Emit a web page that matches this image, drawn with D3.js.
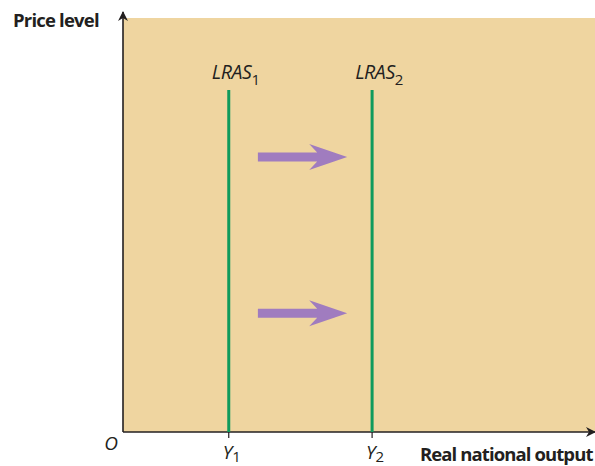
<!DOCTYPE html>
<html>
<head>
<meta charset="utf-8">
<script src="https://cdn.jsdelivr.net/npm/d3@7"></script>
<style>
  body { margin: 0; background: #fff; }
  svg { display: block; }
  text { font-family: "Open Sans", "DejaVu Sans", sans-serif; fill: #231f20; }
</style>
</head>
<body>
<svg id="chart" width="595" height="466"></svg>
<script>
// curves: name, subscript, output level, top of line
var curveNames = ['LRAS', 'LRAS'];
var curveSubs = ['1', '2'];
var curveOutput = [22.5, 53];
var curveTop = 82.6;
// tick labels on the output axis
var tickLabels = ['Y', 'Y'];
var tickSubs = ['1', '2'];
// shift arrows: price level, start and end output
var arrowLevels = [66.4, 28.7];
var arrowFrom = 28.7;
var arrowTo = 47.7;

var svg = d3.select('#chart'),
    width = 595, height = 466;

var x = d3.scaleLinear().domain([0, 100]).range([123, 593]);
var y = d3.scaleLinear().domain([0, 100]).range([432, 18]);

// shaded plot area
svg.append('rect')
    .attr('x', x(0)).attr('y', y(100))
    .attr('width', width - x(0)).attr('height', y(0) - y(100))
    .attr('fill', '#efd5a0');

// arrowhead marker for axes
var defs = svg.append('defs');
defs.append('marker')
    .attr('id', 'ax')
    .attr('viewBox', '0 0 10 10')
    .attr('refX', 9).attr('refY', 5)
    .attr('markerWidth', 10).attr('markerHeight', 10)
    .attr('markerUnits', 'userSpaceOnUse')
    .attr('orient', 'auto')
    .append('path')
    .attr('d', 'M0,0 L10,5 L0,10 L3,5 Z')
    .attr('fill', '#231f20');

// axes
svg.append('line')
    .attr('x1', x(0)).attr('y1', y(0))
    .attr('x2', x(0)).attr('y2', 12)
    .attr('stroke', '#231f20').attr('stroke-width', 1.6)
    .attr('marker-end', 'url(#ax)');
svg.append('line')
    .attr('x1', x(0)).attr('y1', y(0))
    .attr('x2', 595).attr('y2', y(0))
    .attr('stroke', '#231f20').attr('stroke-width', 1.6)
    .attr('marker-end', 'url(#ax)');

// ticks at Y1, Y2
svg.selectAll('.tick')
    .data(curveOutput)
    .enter().append('line')
    .attr('class', 'tick')
    .attr('x1', d => x(d)).attr('x2', d => x(d))
    .attr('y1', y(0)).attr('y2', y(0) + 6)
    .attr('stroke', '#231f20').attr('stroke-width', 1.2);

// LRAS lines
svg.selectAll('.lras')
    .data(curveOutput)
    .enter().append('line')
    .attr('class', 'lras')
    .attr('x1', d => x(d)).attr('x2', d => x(d))
    .attr('y1', y(curveTop)).attr('y2', y(0))
    .attr('stroke', '#0f9a5c').attr('stroke-width', 3);

// LRAS labels
var lab = svg.selectAll('.lab')
    .data(curveOutput)
    .enter().append('text')
    .attr('class', 'lab')
    .attr('x', d => x(d) + 7)
    .attr('y', 79)
    .attr('text-anchor', 'middle')
    .attr('font-size', 19.5)
    .attr('font-style', 'italic')
    .attr('letter-spacing', -0.4);
lab.append('tspan').text((d, i) => curveNames[i]);
lab.append('tspan').attr('dy', 6).attr('font-size', 15).attr('font-style', 'normal')
    .text((d, i) => curveSubs[i]);

// tick labels
var tl = svg.selectAll('.tl')
    .data(curveOutput)
    .enter().append('text')
    .attr('class', 'tl')
    .attr('x', d => x(d) + 3)
    .attr('y', 459)
    .attr('text-anchor', 'middle')
    .attr('font-size', 19)
    .attr('font-style', 'italic');
tl.append('tspan').text((d, i) => tickLabels[i]);
tl.append('tspan').attr('dy', 3).attr('font-size', 15).attr('font-style', 'normal')
    .text((d, i) => tickSubs[i]);

// origin
svg.append('text')
    .attr('x', 111).attr('y', 450)
    .attr('text-anchor', 'middle')
    .attr('font-size', 19).attr('font-style', 'italic')
    .text('O');

// arrows
var shaft = 4.5, headH = 13, headL = 38, notch = 8;
svg.selectAll('.arrow')
    .data(arrowLevels)
    .enter().append('path')
    .attr('class', 'arrow')
    .attr('fill', '#a07cbf')
    .attr('d', d => {
        var x0 = x(arrowFrom), x1 = x(arrowTo), yc = y(d), xb = x1 - headL;
        return 'M' + x0 + ',' + (yc - shaft) +
            'L' + (xb + notch) + ',' + (yc - shaft) +
            'L' + xb + ',' + (yc - headH) +
            'L' + x1 + ',' + yc +
            'L' + xb + ',' + (yc + headH) +
            'L' + (xb + notch) + ',' + (yc + shaft) +
            'L' + x0 + ',' + (yc + shaft) + 'Z';
    });

// axis titles
svg.append('text')
    .attr('x', 13).attr('y', 27)
    .attr('font-size', 18.5).attr('font-weight', 'bold')
    .attr('letter-spacing', -0.8)
    .text('Price level');
svg.append('text')
    .attr('x', 420).attr('y', 461)
    .attr('font-size', 18.5).attr('font-weight', 'bold')
    .attr('letter-spacing', -0.9)
    .text('Real national output');
</script>
</body>
</html>
